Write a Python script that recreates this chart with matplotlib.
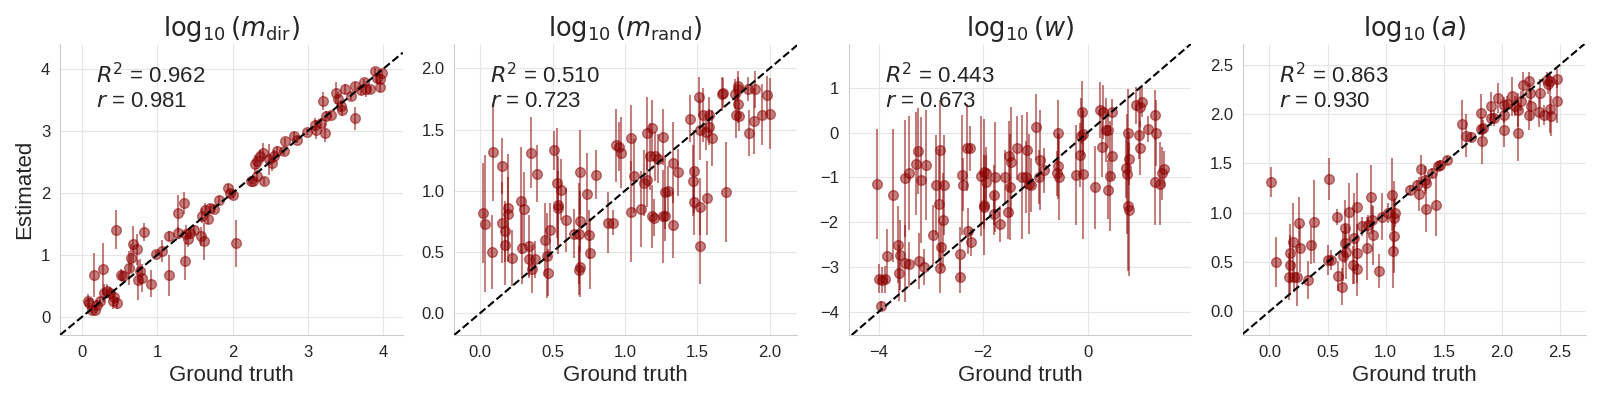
import numpy as np
import matplotlib
matplotlib.use("Agg")
import matplotlib.pyplot as plt
import seaborn as sns
from matplotlib.ticker import MultipleLocator

# ---- data (ground truth, estimate, error) ----
mdir_true = [0.08, 0.10, 0.14, 0.17, 0.20, 0.24, 0.16, 0.28, 0.30, 0.34, 0.38, 0.43, 0.42, 0.46, 0.45,
             0.52, 0.55, 0.62, 0.65, 0.68, 0.73, 0.75, 0.77, 0.80, 0.82, 0.92, 0.98, 1.07, 1.16, 1.16,
             1.27, 1.28, 1.35, 1.37, 1.38, 1.41, 1.44, 1.49, 1.58, 1.60, 1.62, 1.64, 1.67, 1.70, 1.76,
             1.82, 1.94, 1.96, 2.00, 2.05, 2.24, 2.27, 2.30, 2.33, 2.32, 2.36, 2.40, 2.42, 2.49, 2.52,
             2.55, 2.59, 2.68, 2.70, 2.82, 2.86, 2.99, 3.09, 3.11, 3.18, 3.20, 3.23, 3.24, 3.31, 3.37,
             3.40, 3.44, 3.45, 3.49, 3.57, 3.63, 3.63, 3.71, 3.75, 3.77, 3.83, 3.89, 3.92, 3.96, 3.99, 3.96]
mdir_est = [0.25, 0.22, 0.12, 0.12, 0.20, 0.25, 0.68, 0.77, 0.39, 0.42, 0.39, 0.33, 0.25, 0.23, 1.41,
            0.68, 0.66, 0.79, 0.95, 1.17, 1.09, 0.60, 0.74, 0.63, 1.37, 0.54, 1.01, 1.06, 1.30, 0.67,
            1.67, 1.35, 1.84, 0.90, 1.33, 1.25, 1.35, 1.41, 1.30, 1.63, 1.22, 1.73, 1.58, 1.76, 1.74,
            1.89, 2.08, 2.00, 1.97, 1.19, 2.19, 2.19, 2.46, 2.51, 2.27, 2.59, 2.65, 2.19, 2.54, 2.48,
            2.59, 2.67, 2.67, 2.83, 2.92, 2.86, 2.98, 3.10, 3.02, 3.13, 3.48, 2.97, 3.24, 3.26, 3.61,
            3.52, 3.40, 3.34, 3.68, 3.56, 3.20, 3.72, 3.66, 3.78, 3.67, 3.67, 3.96, 3.85, 3.83, 3.94, 3.71]
mdir_err = [0.12, 0.08, 0.06, 0.06, 0.08, 0.08, 0.35, 0.42, 0.15, 0.12, 0.10, 0.12, 0.12, 0.10, 0.32,
            0.10, 0.08, 0.28, 0.22, 0.30, 0.25, 0.32, 0.20, 0.22, 0.15, 0.22, 0.05, 0.18, 0.08, 0.33,
            0.30, 0.10, 0.18, 0.30, 0.15, 0.12, 0.10, 0.08, 0.15, 0.12, 0.30, 0.10, 0.08, 0.06, 0.06,
            0.06, 0.06, 0.06, 0.06, 0.38, 0.05, 0.05, 0.15, 0.12, 0.10, 0.10, 0.15, 0.06, 0.25, 0.12,
            0.10, 0.08, 0.06, 0.06, 0.06, 0.06, 0.05, 0.10, 0.15, 0.08, 0.15, 0.15, 0.08, 0.06, 0.18,
            0.10, 0.10, 0.10, 0.08, 0.06, 0.18, 0.06, 0.08, 0.06, 0.12, 0.06, 0.05, 0.08, 0.08, 0.05, 0.08]

mrand_true = [0.02, 0.03, 0.09, 0.08, 0.15, 0.15, 0.17, 0.17, 0.19, 0.19, 0.22, 0.28, 0.30, 0.29, 0.34,
              0.35, 0.39, 0.34, 0.36, 0.38, 0.45, 0.48, 0.46, 0.47, 0.51, 0.53, 0.54, 0.54, 0.56, 0.59,
              0.65, 0.68, 0.69, 0.69, 0.68, 0.69, 0.74, 0.75, 0.76, 0.80, 0.88, 0.92, 0.94, 0.96, 0.97,
              1.04, 1.04, 1.06, 1.11, 1.13, 1.15, 1.15, 1.17, 1.19, 1.19, 1.20, 1.21, 1.23, 1.26, 1.26,
              1.28, 1.28, 1.30, 1.33, 1.33, 1.37, 1.45, 1.47, 1.48, 1.48, 1.51, 1.52, 1.52, 1.52, 1.54,
              1.56, 1.57, 1.58, 1.58, 1.60, 1.67, 1.68, 1.70, 1.76, 1.78, 1.78, 1.78, 1.77, 1.79, 1.85,
              1.86, 1.90, 1.89, 1.95, 1.98, 2.00]
mrand_est = [0.82, 0.73, 1.32, 0.50, 1.20, 0.74, 0.67, 0.56, 0.86, 0.81, 0.45, 0.92, 0.85, 0.53, 0.55,
             1.31, 1.14, 0.44, 0.36, 0.44, 0.60, 0.68, 0.47, 0.33, 1.33, 1.06, 0.88, 0.86, 1.01, 0.76,
             0.65, 0.65, 0.75, 0.38, 0.35, 1.15, 0.97, 0.64, 0.49, 1.13, 0.74, 0.74, 1.37, 1.36, 1.31,
             1.43, 0.83, 1.12, 0.85, 1.06, 1.09, 1.47, 1.28, 1.51, 0.79, 0.78, 1.28, 1.26, 1.44, 0.79,
             0.79, 0.99, 1.00, 1.23, 0.72, 1.15, 1.59, 1.08, 1.16, 0.91, 1.77, 1.50, 0.87, 0.55, 1.62,
             1.48, 0.94, 1.62, 1.52, 1.43, 1.79, 1.80, 0.99, 1.79, 1.86, 1.83, 1.71, 1.62, 1.61, 1.83,
             1.47, 1.83, 1.57, 1.62, 1.78, 1.63]
mrand_err = [0.41, 0.56, 0.40, 0.30, 0.23, 0.33, 0.25, 0.33, 0.44, 0.30, 0.23, 0.44, 0.30, 0.29, 0.25,
             0.29, 0.23, 0.15, 0.20, 0.15, 0.30, 0.22, 0.35, 0.19, 0.16, 0.45, 0.40, 0.30, 0.25, 0.26,
             0.20, 0.41, 0.25, 0.25, 0.20, 0.35, 0.34, 0.20, 0.29, 0.20, 0.25, 0.10, 0.30, 0.20, 0.29,
             0.27, 0.41, 0.30, 0.31, 0.27, 0.22, 0.30, 0.27, 0.23, 0.26, 0.15, 0.20, 0.20, 0.23, 0.38,
             0.20, 0.30, 0.20, 0.33, 0.27, 0.19, 0.19, 0.29, 0.34, 0.27, 0.16, 0.25, 0.23, 0.31, 0.22,
             0.15, 0.30, 0.15, 0.15, 0.23, 0.14, 0.12, 0.41, 0.12, 0.12, 0.10, 0.16, 0.19, 0.12, 0.10,
             0.19, 0.15, 0.27, 0.25, 0.16, 0.29]

w_true = [-4.03, -3.99, -3.94, -3.89, -3.95, -3.84, -3.73, -3.64, -3.59, -3.61, -3.49, -3.43, -3.49, -3.43,
          -3.28, -3.24, -3.19, -3.22, -3.13, -3.09, -2.96, -2.91, -2.75, -2.85, -2.83, -2.80, -2.82, -2.77,
          -2.45, -2.44, -2.41, -2.39, -2.30, -2.26, -2.29, -2.23, -2.04, -1.99, -1.94, -1.94, -1.99, -1.99,
          -1.80, -1.80, -1.77, -1.67, -1.59, -1.52, -1.48, -1.50, -1.47, -1.35, -1.25, -1.18, -1.15, -1.12,
          -1.09, -0.98, -0.93, -0.91, -0.84, -0.57, -0.57, -0.58, -0.55, -0.22, -0.11, -0.13, -0.14, -0.09,
          -0.08, 0.15, 0.24, 0.27, 0.30, 0.35, 0.40, 0.46, 0.40, 0.44, 0.46, 0.73, 0.76, 0.78, 0.80, 0.77,
          0.80, 0.92, 1.00, 1.05, 0.99, 1.00, 1.16, 1.30, 1.32, 1.30, 1.38, 1.43, 1.46]
w_est = [-1.14, -3.26, -3.29, -3.28, -3.87, -2.76, -1.40, -2.50, -2.74, -3.14, -2.92, -2.94, -1.02, -0.90,
         -0.70, -0.41, -1.05, -2.87, -3.00, -0.73, -2.29, -1.17, -1.17, -1.60, -0.39, -2.55, -3.03, -1.95,
         -2.71, -3.22, -0.95, -1.16, -0.34, -0.35, -2.20, -2.45, -0.96, -0.88, -0.91, -1.10, -1.62, -1.66,
         -1.40, -1.81, -0.99, -2.04, -0.99, -1.78, -1.21, -0.53, -0.65, -0.34, -0.99, -0.99, -0.39, -1.14,
         -1.17, 0.13, -0.99, -0.61, -0.84, 0.00, -0.74, -0.91, -0.99, -0.95, 0.45, -0.08, -0.50, -0.02,
         -0.93, -1.22, 0.50, -0.32, 0.46, 0.06, 0.06, 0.45, -1.27, -0.97, -0.53, -0.79, -0.93, 0.00, -0.58,
         -1.64, -1.72, 0.61, 0.58, 0.69, -0.06, -0.34, 0.08, 0.40, 0.00, -1.10, -1.14, -0.91, -0.82]
w_err = [1.23, 0.33, 0.30, 0.30, 0.10, 0.60, 1.49, 0.86, 0.78, 0.63, 0.86, 0.50, 1.30, 1.28,
         1.15, 0.97, 1.41, 0.63, 0.40, 1.23, 0.67, 1.12, 1.12, 1.23, 1.12, 0.56, 0.56, 1.04,
         0.60, 0.37, 1.34, 0.60, 0.97, 0.50, 0.52, 0.30, 1.34, 1.19, 0.60, 0.60, 1.12, 0.50,
         0.67, 0.48, 1.23, 0.41, 0.60, 0.60, 1.19, 0.78, 1.23, 0.71, 1.38, 0.80, 0.86, 1.12,
         0.60, 0.74, 0.60, 1.12, 0.50, 0.74, 0.74, 0.50, 0.97, 1.12, 0.71, 0.86, 0.71, 0.50,
         1.45, 0.93, 0.63, 0.67, 0.60, 0.71, 0.40, 0.30, 0.67, 1.23, 0.52, 0.67, 1.34, 0.97, 0.60,
         1.45, 1.49, 0.41, 0.45, 0.33, 0.52, 0.60, 0.30, 0.56, 0.74, 0.97, 0.93, 0.60, 0.40]

a_true = [0.01, 0.06, 0.17, 0.18, 0.18, 0.20, 0.21, 0.24, 0.25, 0.26, 0.33, 0.36, 0.38, 0.50, 0.51,
          0.53, 0.58, 0.59, 0.62, 0.63, 0.65, 0.65, 0.66, 0.68, 0.72, 0.73, 0.75, 0.75, 0.75, 0.80,
          0.84, 0.85, 0.87, 0.88, 0.89, 0.94, 0.97, 1.02, 1.05, 1.07, 1.08, 1.07, 1.06, 1.21, 1.27,
          1.29, 1.30, 1.34, 1.35, 1.35, 1.40, 1.43, 1.45, 1.47, 1.53, 1.66, 1.69, 1.73, 1.82, 1.82,
          1.83, 1.84, 1.91, 1.91, 1.93, 1.97, 2.02, 2.02, 2.02, 2.04, 2.09, 2.11, 2.14, 2.14, 2.16,
          2.18, 2.23, 2.23, 2.24, 2.25, 2.32, 2.33, 2.36, 2.39, 2.40, 2.41, 2.41, 2.42, 2.47, 2.47]
a_est = [1.31, 0.50, 0.35, 0.47, 0.59, 0.70, 0.35, 0.35, 0.90, 0.64, 0.32, 0.67, 0.91, 0.52, 1.34,
         0.52, 0.96, 0.36, 0.25, 0.56, 0.84, 0.69, 0.60, 1.01, 0.47, 0.74, 1.06, 0.59, 0.43, 0.86,
         0.64, 0.88, 1.16, 0.93, 0.77, 0.41, 0.96, 1.00, 1.18, 0.95, 1.00, 0.76, 0.61, 1.23, 1.28,
         1.19, 1.44, 1.33, 1.30, 1.04, 1.40, 1.08, 1.47, 1.48, 1.53, 1.90, 1.78, 1.77, 1.85, 2.01,
         1.73, 1.86, 2.08, 1.96, 1.96, 2.16, 2.09, 1.99, 1.84, 2.10, 2.18, 2.08, 1.81, 2.04, 2.13,
         2.29, 1.99, 2.33, 2.21, 2.08, 2.02, 2.21, 1.99, 2.35, 2.30, 2.33, 2.05, 1.98, 2.13, 2.36]
a_err = [0.15, 0.25, 0.24, 0.30, 0.30, 0.40, 0.15, 0.30, 0.26, 0.24, 0.19, 0.19, 0.42, 0.15, 0.21,
         0.10, 0.08, 0.15, 0.19, 0.25, 0.29, 0.20, 0.27, 0.29, 0.19, 0.46, 0.34, 0.30, 0.27, 0.10,
         0.32, 0.10, 0.32, 0.15, 0.30, 0.17, 0.24, 0.10, 0.37, 0.37, 0.15, 0.37, 0.37, 0.05, 0.05,
         0.17, 0.14, 0.14, 0.08, 0.24, 0.05, 0.32, 0.05, 0.05, 0.04, 0.24, 0.22, 0.05, 0.05, 0.19,
         0.24, 0.08, 0.14, 0.08, 0.08, 0.15, 0.08, 0.08, 0.17, 0.08, 0.20, 0.10, 0.29, 0.17, 0.10,
         0.14, 0.15, 0.10, 0.10, 0.15, 0.15, 0.15, 0.10, 0.08, 0.10, 0.10, 0.24, 0.20, 0.22, 0.10]

titles = [r'$\log_{10}(m_{\mathrm{dir}})$', r'$\log_{10}(m_{\mathrm{rand}})$',
          r'$\log_{10}(w)$', r'$\log_{10}(a)$']
r2_vals = [0.962, 0.510, 0.443, 0.863]
r_vals = [0.981, 0.723, 0.673, 0.930]

panels = [(mdir_true, mdir_est, mdir_err), (mrand_true, mrand_est, mrand_err),
          (w_true, w_est, w_err), (a_true, a_est, a_err)]
xlims = [(-0.29, 4.26), (-0.18, 2.19), (-4.58, 1.99), (-0.23, 2.72)]
ylims = [(-0.29, 4.40), (-0.18, 2.20), (-4.52, 1.98), (-0.24, 2.71)]
xsteps = [1, 0.5, 2, 0.5]
ysteps = [1, 0.5, 1, 0.5]

sns.set_style('whitegrid', {'grid.color': '0.9'})
plt.rcParams['font.family'] = ['Liberation Sans', 'DejaVu Sans']

fig, axes = plt.subplots(1, 4, figsize=(16, 4), dpi=100)
fig.subplots_adjust(left=0.0375, right=0.991, top=0.89, bottom=0.1625, wspace=0.15)

for i, ax in enumerate(axes):
    gt, est, err = panels[i]
    ax.errorbar(gt, est, yerr=err, fmt='o', color='darkred', alpha=0.5,
                ms=7, elinewidth=1.5, capsize=0, zorder=3)
    ax.axline((0, 0), slope=1, color='black', linestyle='--', linewidth=1.5, zorder=4)
    ax.set_xlim(xlims[i])
    ax.set_ylim(ylims[i])
    ax.xaxis.set_major_locator(MultipleLocator(xsteps[i]))
    ax.yaxis.set_major_locator(MultipleLocator(ysteps[i]))
    ax.tick_params(labelsize=12, colors='#262626')
    ax.set_title(titles[i], fontsize=18.5)
    ax.set_xlabel('Ground truth', fontsize=16)
    ax.text(0.105, 0.935, f'$R^2$ = {r2_vals[i]:.3f}\n$r$ = {r_vals[i]:.3f}',
            transform=ax.transAxes, fontsize=16, va='top', ha='left', color='#262626')
    if i == 0:
        ax.set_ylabel('Estimated', fontsize=16)
    sns.despine(ax=ax)

fig.savefig('out.png', dpi=100)
